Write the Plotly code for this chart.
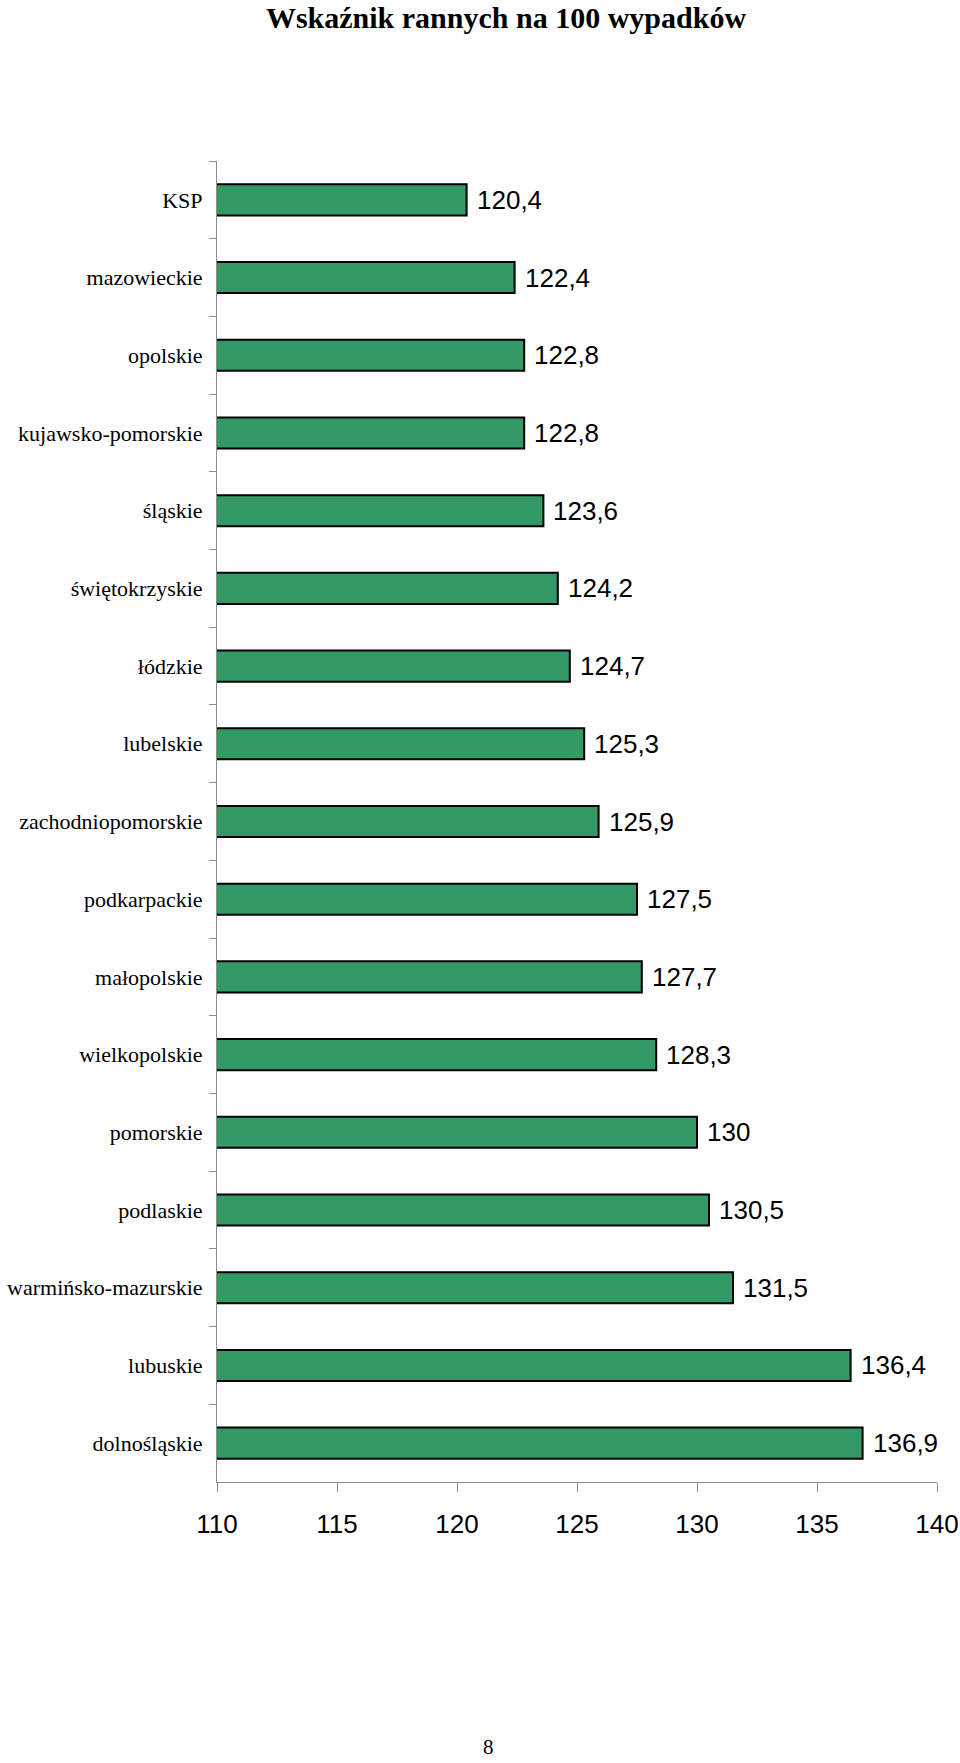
import plotly.graph_objects as go

categories = ["KSP", "mazowieckie", "opolskie", "kujawsko-pomorskie", "śląskie",
              "świętokrzyskie", "łódzkie", "lubelskie", "zachodniopomorskie",
              "podkarpackie", "małopolskie", "wielkopolskie", "pomorskie",
              "podlaskie", "warmińsko-mazurskie", "lubuskie", "dolnośląskie"]
values = [120.4, 122.4, 122.8, 122.8, 123.6, 124.2, 124.7, 125.3, 125.9,
          127.5, 127.7, 128.3, 130, 130.5, 131.5, 136.4, 136.9]
x_ticks = [110, 115, 120, 125, 130, 135, 140]
title_text = "Wskaźnik rannych na 100 wypadków"
page_number = "8"


def fmt(v):
    return f"{v:g}".replace(".", ",")


W, H = 960, 1763
ml, mr, mt, mb = 217, 23, 161, 281
pw = W - ml - mr
ph = H - mt - mb

fig = go.Figure()
fig.add_trace(go.Bar(
    x=values, y=categories, orientation="h",
    marker=dict(color="#339966", line=dict(color="#000000", width=2)),
    width=0.4, hoverinfo="x+y",
))

for c, v in zip(categories, values):
    fig.add_annotation(x=v, y=c, xref="x", yref="y", text=fmt(v),
                       showarrow=False, xanchor="left", yanchor="middle",
                       xshift=8,
                       font=dict(family="Liberation Sans, Arial", size=26, color="#000"))

fig.add_annotation(x=(488 - ml) / pw, y=(H - mb - 1747) / ph, xref="paper", yref="paper",
                   text=page_number, showarrow=False, xanchor="center", yanchor="middle",
                   font=dict(family="Liberation Serif, Times New Roman", size=21, color="#000"))

fig.update_layout(
    width=W, height=H,
    margin=dict(l=ml, r=mr, t=mt, b=mb, pad=0, autoexpand=False),
    paper_bgcolor="white", plot_bgcolor="white",
    showlegend=False,
    title=dict(text="<b>" + title_text + "</b>", x=506 / W, xref="container", xanchor="center",
               y=1 - 17 / H, yref="container", yanchor="middle",
               font=dict(family="Liberation Serif, Times New Roman", size=30, color="#000")),
    xaxis=dict(range=[110, 140], tickvals=x_ticks, ticktext=[str(t) for t in x_ticks],
               automargin=False,
               showgrid=False, zeroline=False, showline=True, linecolor="#8c8c8c", linewidth=1,
               ticks="outside", ticklen=9, tickcolor="#8c8c8c", tickwidth=1,
               ticklabelstandoff=10,
               tickfont=dict(family="Liberation Sans, Arial", size=26, color="#000")),
    yaxis=dict(categoryorder="array", categoryarray=categories, autorange="reversed",
               automargin=False,
               showgrid=False, zeroline=False, showline=True, linecolor="#8c8c8c", linewidth=1,
               ticks="outside", tickson="boundaries", ticklen=7, tickcolor="#8c8c8c", tickwidth=1,
               ticklabelstandoff=9,
               tickfont=dict(family="Liberation Serif, Times New Roman", size=22, color="#000")),
)

fig.write_html("out.html")
